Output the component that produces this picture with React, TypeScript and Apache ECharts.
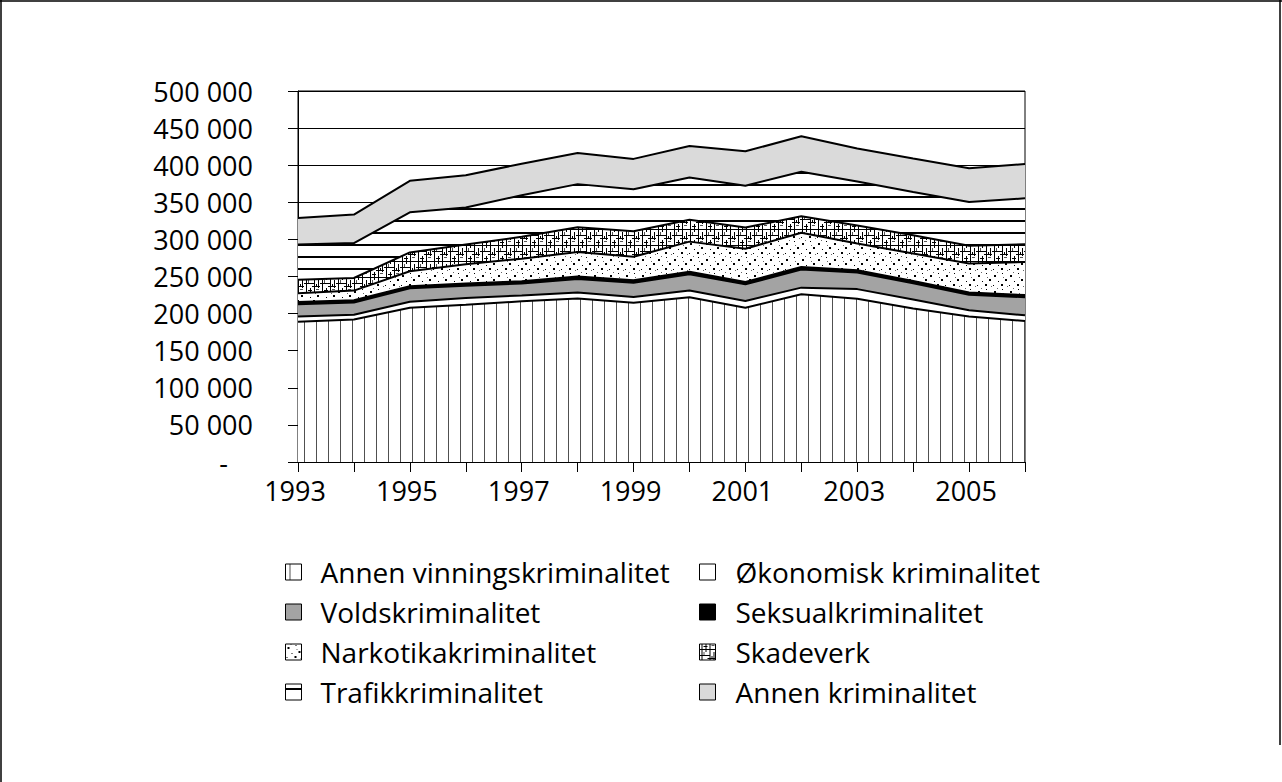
import React, { useEffect, useRef } from 'react';
import * as echarts from 'echarts';

const years = ['1993', '1994', '1995', '1996', '1997', '1998', '1999', '2000', '2001', '2002', '2003', '2004', '2005', '2006'];
const annenVinning = [189000, 192000, 208000, 212000, 216500, 220500, 214500, 222000, 208000, 226000, 220000, 207000, 196000, 190000];
const okonomisk = [7000, 6500, 8000, 9000, 8000, 8000, 8000, 9000, 9000, 9000, 13000, 12000, 8400, 7700];
const vold = [16500, 16500, 18000, 16500, 16000, 18000, 19000, 22000, 22500, 24500, 22500, 22000, 21100, 24300];
const seksual = [3000, 3000, 3000, 3000, 3000, 3500, 3500, 3500, 3000, 3300, 3000, 3000, 3000, 3000];
const narkotika = [12000, 13000, 20000, 26000, 30500, 33000, 31500, 40500, 45000, 46200, 36000, 37000, 39000, 44500];
const skadeverk = [18000, 17000, 25500, 26500, 29500, 33500, 34500, 29500, 28500, 22300, 24300, 24500, 24000, 23900];
const trafikk = [47500, 47000, 54000, 50000, 56000, 58000, 56500, 56800, 56300, 60000, 59200, 58500, 58900, 62000];
const annen = [36000, 38500, 42500, 43500, 42500, 42000, 41000, 42600, 46400, 47700, 44500, 45000, 45400, 46300];

const seriesNames = [
  'Annen vinningskriminalitet',
  'Økonomisk kriminalitet',
  'Voldskriminalitet',
  'Seksualkriminalitet',
  'Narkotikakriminalitet',
  'Skadeverk',
  'Trafikkriminalitet',
  'Annen kriminalitet',
];
const seriesData = [annenVinning, okonomisk, vold, seksual, narkotika, skadeverk, trafikk, annen];

const FONT = 'Open Sans';

function makeTile(w: number, h: number, draw: (ctx: CanvasRenderingContext2D) => void) {
  const c = document.createElement('canvas');
  c.width = w;
  c.height = h;
  const ctx = c.getContext('2d') as CanvasRenderingContext2D;
  ctx.fillStyle = '#ffffff';
  ctx.fillRect(0, 0, w, h);
  draw(ctx);
  return { image: c.toDataURL(), repeat: 'repeat', imageWidth: w, imageHeight: h } as any;
}

export default function App() {
  const ref = useRef<HTMLDivElement>(null);
  useEffect(() => {
    if (!ref.current) return;
    const chart = echarts.init(ref.current, null, { renderer: 'svg' });

    const pVert = makeTile(12, 12, (ctx) => {
      ctx.fillStyle = '#505050';
      ctx.fillRect(4, 0, 1, 12);
    });
    const pHoriz = makeTile(12, 12, (ctx) => {
      ctx.fillStyle = '#000000';
      ctx.fillRect(0, 4, 12, 2);
    });
    const pDots = makeTile(16, 16, (ctx) => {
      ctx.fillStyle = '#000000';
      ctx.fillRect(2, 3, 2, 2);
      ctx.fillRect(10, 1, 1, 1);
      ctx.fillRect(13, 7, 2, 2);
      ctx.fillRect(6, 9, 1, 1);
      ctx.fillRect(9, 12, 2, 2);
      ctx.fillRect(1, 13, 1, 1);
      ctx.fillStyle = '#666666';
      ctx.fillRect(5, 0, 1, 1);
      ctx.fillRect(15, 14, 1, 1);
      ctx.fillRect(11, 5, 1, 1);
    });
    const pPlaid = makeTile(16, 16, (ctx) => {
      ctx.fillStyle = '#000000';
      ctx.fillRect(2, 0, 1, 16);
      ctx.fillRect(10, 0, 1, 16);
      ctx.fillRect(6, 0, 1, 8);
      ctx.fillRect(14, 8, 1, 8);
      ctx.fillRect(0, 5, 16, 1);
      ctx.fillRect(0, 11, 10, 1);
      ctx.fillRect(8, 14, 8, 1);
      ctx.fillRect(4, 2, 4, 1);
      ctx.fillRect(12, 12, 1, 3);
      ctx.fillStyle = '#555555';
      ctx.fillRect(4, 8, 1, 3);
      ctx.fillRect(12, 1, 3, 1);
    });

    const fills = [pVert, '#ffffff', '#a3a3a3', '#000000', pDots, pPlaid, pHoriz, '#dadada'];

    const legendItem = (i: number) => ({
      name: seriesNames[i],
      itemStyle: { color: fills[i], borderColor: '#000', borderWidth: 1 },
    });

    const legendCommon = {
      orient: 'vertical',
      itemWidth: 16,
      itemHeight: 16,
      itemGap: 12,
      icon: 'rect',
      selectedMode: false,
      padding: 0,
    };

    chart.setOption({
      animation: false,
      backgroundColor: '#ffffff',
      grid: {
        left: 298,
        right: 257,
        top: 91,
        bottom: 320,
        show: true,
        borderColor: '#000',
        borderWidth: 1,
        backgroundColor: '#ffffff',
      },
      legend: [
        {
          ...legendCommon,
          left: 285,
          top: 558,
          textStyle: { fontFamily: FONT, fontSize: 28, color: '#000', padding: [0, 0, 0, 14] },
          data: [0, 2, 4, 6].map(legendItem),
        },
        {
          ...legendCommon,
          left: 699,
          top: 558,
          textStyle: { fontFamily: FONT, fontSize: 28, color: '#000', padding: [0, 0, 0, 15] },
          data: [1, 3, 5, 7].map(legendItem),
        },
      ],
      xAxis: {
        type: 'category',
        data: years,
        boundaryGap: false,
        axisLine: { show: true, lineStyle: { color: '#000', width: 1 } },
        axisTick: { show: true, length: 10, interval: 0, lineStyle: { color: '#000', width: 1 } },
        axisLabel: { interval: 1, margin: 15, fontFamily: FONT, fontSize: 27, color: '#000', padding: [0, 6, 0, 0] },
        splitLine: { show: false },
      },
      yAxis: {
        type: 'value',
        min: 0,
        max: 500000,
        interval: 50000,
        axisLine: { show: true, lineStyle: { color: '#000', width: 1 } },
        axisTick: { show: true, length: 10, lineStyle: { color: '#000', width: 1 } },
        splitLine: { show: true, lineStyle: { color: '#000', width: 1 } },
        axisLabel: {
          margin: 45,
          fontFamily: FONT,
          fontSize: 27,
          color: '#000',
          formatter: (v: number) => (v === 0 ? '{d|-}' : `${Math.round(v / 1000)} 000`),
          rich: { d: { fontFamily: FONT, fontSize: 27, color: '#000', padding: [0, 25, 0, 0] } },
        },
      },
      series: seriesNames.map((name, i) => ({
        name,
        type: 'line',
        stack: 'total',
        data: seriesData[i],
        symbol: 'none',
        showSymbol: false,
        lineStyle: { color: '#000', width: 2 },
        itemStyle: { color: '#000' },
        areaStyle: { color: fills[i], opacity: 1 },
        emphasis: { disabled: true },
        silent: true,
      })),
      graphic: [
        { type: 'line', shape: { x1: 0, y1: 1, x2: 1282, y2: 1 }, style: { stroke: '#000', lineWidth: 1.5 } },
        { type: 'line', shape: { x1: 1, y1: 0, x2: 1, y2: 782 }, style: { stroke: '#000', lineWidth: 1.5 } },
        { type: 'line', shape: { x1: 1280, y1: 0, x2: 1280, y2: 745 }, style: { stroke: '#000', lineWidth: 1.5 } },
      ],
    });

    return () => chart.dispose();
  }, []);

  return (
    <div
      ref={ref}
      style={{ position: 'absolute', left: 0, top: 0, width: '1282px', height: '782px' }}
    />
  );
}
